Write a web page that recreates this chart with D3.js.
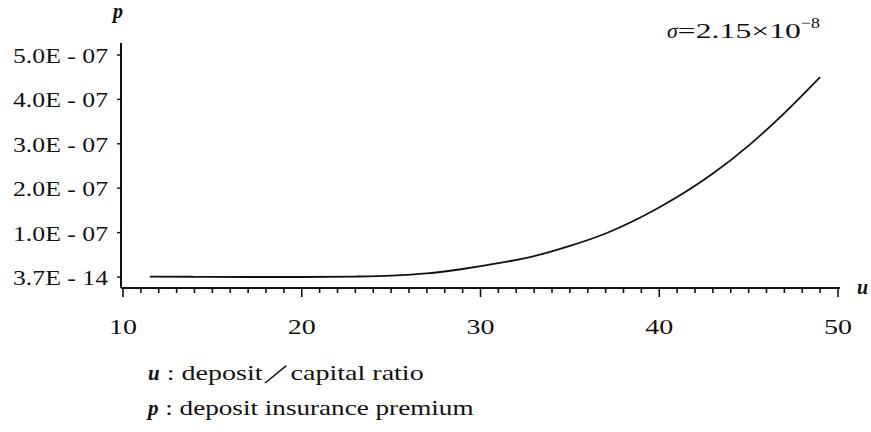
<!DOCTYPE html>
<html>
<head>
<meta charset="utf-8">
<script src="https://cdn.jsdelivr.net/npm/d3@7"></script>
<style>
  body { margin: 0; background: #fff; }
  text { font-family: "Liberation Serif", "DejaVu Serif", serif; fill: #111; }
</style>
</head>
<body>
<div id="chart"></div>
<script>
(function() {
	// curve: u = deposit/capital ratio, p = premium
	var uValues = [11.5, 14, 17, 20, 23, 25, 27, 29, 31, 33, 35, 37, 39, 41, 43, 45, 47, 49];
	var pValues = [0.01e-7, 0.005e-7, 0, 0, 0.01e-7, 0.03e-7, 0.08e-7, 0.18e-7, 0.31e-7, 0.47e-7,
		0.70e-7, 0.98e-7, 1.35e-7, 1.80e-7, 2.33e-7, 2.96e-7, 3.69e-7, 4.5e-7];

	var xTicks = [10, 20, 30, 40, 50];
	var yTicks = [0, 1e-7, 2e-7, 3e-7, 4e-7, 5e-7];
	var yTickLabels = ["3.7E - 14", "1.0E - 07", "2.0E - 07", "3.0E - 07", "4.0E - 07", "5.0E - 07"];

	var width = 871, height = 432;

	var svg = d3.select("#chart").append("svg")
		.attr("width", width)
		.attr("height", height);

	var x = d3.scaleLinear().domain([10, 50]).range([123, 838]);
	var y = d3.scaleLinear().domain([0, 5e-7]).range([277, 55]);

	var axisY = 288, axisX = 121;

	// x axis: line + minor ticks every 1, major every 10
	svg.append("line")
		.attr("x1", axisX).attr("x2", x(50) + 2)
		.attr("y1", axisY).attr("y2", axisY)
		.attr("stroke", "#111").attr("stroke-width", 2);

	svg.selectAll(".xminor")
		.data(d3.range(10, 51))
		.enter()
		.append("line")
		.attr("x1", function(d) { return x(d); })
		.attr("x2", function(d) { return x(d); })
		.attr("y1", axisY)
		.attr("y2", function(d) { return d % 10 === 0 ? axisY + 9 : axisY + 5; })
		.attr("stroke", "#111")
		.attr("stroke-width", 1.6);

	svg.selectAll(".xlabel")
		.data(xTicks)
		.enter()
		.append("text")
		.attr("x", function(d) { return x(d); })
		.attr("y", 334)
		.attr("text-anchor", "middle")
		.attr("font-size", 22)
		.attr("textLength", 28)
		.attr("lengthAdjust", "spacingAndGlyphs")
		.text(function(d) { return d; });

	// y axis
	svg.append("line")
		.attr("x1", axisX).attr("x2", axisX)
		.attr("y1", 43).attr("y2", axisY)
		.attr("stroke", "#111").attr("stroke-width", 2);

	svg.selectAll(".ytick")
		.data(yTicks)
		.enter()
		.append("line")
		.attr("x1", axisX - 4).attr("x2", axisX)
		.attr("y1", function(d) { return y(d); })
		.attr("y2", function(d) { return y(d); })
		.attr("stroke", "#111")
		.attr("stroke-width", 1.4);

	svg.selectAll(".ylabel")
		.data(yTicks)
		.enter()
		.append("text")
		.attr("x", 13)
		.attr("y", function(d) { return y(d) + 8; })
		.attr("font-size", 22)
		.attr("textLength", 95)
		.attr("lengthAdjust", "spacingAndGlyphs")
		.text(function(d, i) { return yTickLabels[i]; });

	// axis names
	svg.append("text")
		.attr("x", 118).attr("y", 18)
		.attr("font-size", 20).attr("font-style", "italic").attr("font-weight", "bold")
		.attr("text-anchor", "middle")
		.text("p");
	svg.append("text")
		.attr("x", 857).attr("y", 294)
		.attr("font-size", 20).attr("font-style", "italic").attr("font-weight", "bold")
		.text("u");

	// curve
	var points = uValues.map(function(u, i) { return [u, pValues[i]]; });
	var line = d3.line()
		.x(function(d) { return x(d[0]); })
		.y(function(d) { return y(d[1]); })
		.curve(d3.curveMonotoneX);

	svg.append("path")
		.datum(points)
		.attr("d", line)
		.attr("fill", "none")
		.attr("stroke", "#111")
		.attr("stroke-width", 1.8);

	// sigma annotation
	var sig = svg.append("text")
		.attr("x", 667).attr("y", 38)
		.attr("font-size", 22);
	sig.append("tspan").attr("font-style", "italic").text("σ");
	sig.append("tspan").attr("textLength", 123).attr("lengthAdjust", "spacingAndGlyphs").text("=2.15×10");
	sig.append("tspan").attr("dy", -10).attr("font-size", 15).attr("textLength", 19)
		.attr("lengthAdjust", "spacingAndGlyphs").text("−8");

	// notes under the chart
	var note1 = svg.append("text").attr("x", 148).attr("y", 380).attr("font-size", 21);
	note1.append("tspan").attr("font-style", "italic").attr("font-weight", "bold").text("u");
	note1.append("tspan").attr("textLength", 264).attr("lengthAdjust", "spacingAndGlyphs")
		.text(" : deposit／capital ratio");

	var note2 = svg.append("text").attr("x", 148).attr("y", 415).attr("font-size", 21);
	note2.append("tspan").attr("font-style", "italic").attr("font-weight", "bold").text("p");
	note2.append("tspan").attr("textLength", 315).attr("lengthAdjust", "spacingAndGlyphs")
		.text(" : deposit insurance premium");
})();
</script>
</body>
</html>
